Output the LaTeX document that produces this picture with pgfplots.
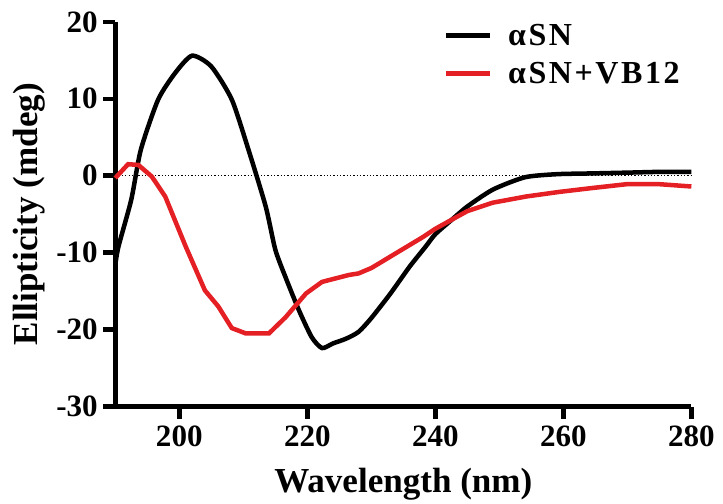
\documentclass[border=0pt]{standalone}
\usepackage{fontspec}
\setmainfont{Liberation Serif}
\newfontfamily\legfont[LetterSpace=8]{Liberation Serif}
\usepackage{pgfplots}
\pgfplotsset{compat=1.18}

\begin{document}
\begin{tikzpicture}
\begin{axis}[
    scale only axis,
    width=575pt,
    height=384pt,
    xmin=190, xmax=280,
    ymin=-30, ymax=20,
    xtick={200,220,240,260,280},
    ytick={-30,-20,-10,0,10,20},
    axis x line*=bottom,
    axis y line*=left,
    axis line style={line width=4.5pt, -},
    tick align=outside,
    major tick length=12pt,
    tick style={line width=4.5pt, black},
    /pgf/number format/assume math mode=true,
    ticklabel style={font=\fontsize{31}{33}\selectfont\bfseries},
    xticklabel style={yshift=-4pt},
    yticklabel style={xshift=-2pt},
    xlabel={Wavelength (nm)},
    ylabel={Ellipticity (mdeg)},
    label style={font=\fontsize{35}{38}\selectfont\bfseries},
    xlabel style={yshift=-14pt},
    ylabel style={yshift=4pt},
    legend style={draw=none, fill=none, at={(0.565,1.005)}, anchor=north west,
        font=\fontsize{32}{34}\selectfont\legfont\bfseries, row sep=11pt},
    legend cell align=left,
    legend image code/.code={\draw[#1, line width=5pt] (0pt,0pt) -- (43pt,0pt);},
    clip=false,
]
\addplot[black, dotted, line width=1.3pt, forget plot] coordinates {(190,0) (280,0)};

% alpha SN
\addplot[black, line width=4.5pt, smooth, tension=0.4] coordinates {
    (190,-11.6) (190.5,-9.2) (192.5,-3.1) (194,3.4) (196.7,9.9) (199.4,13.4)
    (202,15.6) (205,14.2) (208.2,9.9) (210.8,3.4) (213.5,-4) (215,-9.6)
    (216.6,-13.2) (218.7,-17.5) (220.7,-21) (222.3,-22.4) (224,-21.8)
    (226,-21.2) (228,-20.3) (230,-18.5) (233,-15.3) (236,-11.8) (238.5,-9.2)
    (240,-7.6) (242.6,-5.7) (245,-4) (249,-1.8) (254,-0.2) (259,0.2)
    (264.5,0.3) (270,0.4) (275,0.5) (280,0.5)
};
\addlegendentry{\hspace{14pt}αSN}

% alpha SN + VB12
\addplot[color={rgb,255:red,228;green,32;blue,36}, line width=4.5pt] coordinates {
    (190,-0.3) (192,1.5) (193.6,1.4) (195.7,-0.1) (197.8,-2.7) (201,-9.2)
    (204,-14.9) (206.1,-17) (208.2,-19.8) (210.4,-20.5) (214,-20.5)
    (216.6,-18.4) (219.8,-15.3) (222.3,-13.8) (226.5,-12.9) (228,-12.7)
    (230,-12) (232,-11) (234,-10) (236,-9) (238,-8) (240,-6.9) (242.6,-5.7)
    (245,-4.6) (249,-3.5) (254.2,-2.7) (259.4,-2.1) (264.5,-1.6) (269.9,-1.1)
    (275,-1.1) (280,-1.4)
};
\addlegendentry{\hspace{14pt}αSN+VB12}
\end{axis}
\path ([shift={(-10pt,8pt)}]current bounding box.north west)
      ([shift={(5pt,0pt)}]current bounding box.south east);
\end{tikzpicture}
\end{document}
